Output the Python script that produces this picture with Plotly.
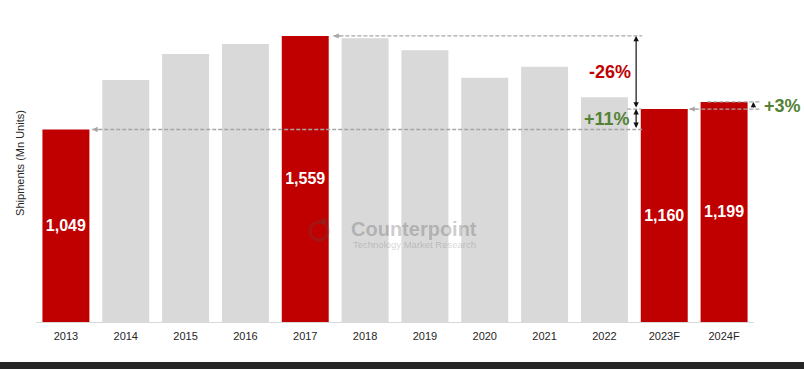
import plotly.graph_objects as go

# ---- data ----
years = ["2013", "2014", "2015", "2016", "2017", "2018", "2019", "2020", "2021", "2022", "2023F", "2024F"]
shipments = [1049, 1319, 1460, 1515, 1559, 1546, 1481, 1331, 1391, 1225, 1160, 1199]
highlight = ["2013", "2017", "2023F", "2024F"]
change_labels = {"peak_to_2023": "-26%", "base_to_2023": "+11%", "2023_to_2024": "+3%"}

RED = "#C00000"
GREY = "#D9D9D9"
GREEN = "#548235"
DASH = "#A6A6A6"
FONT = "Liberation Sans, Arial, sans-serif"
WM = "rgba(80,80,80,0.30)"

colors = [RED if y in highlight else GREY for y in years]
texts = [f"{v:,}" if y in highlight else "" for y, v in zip(years, shipments)]

n = len(years)
def xp(i):
    """category index (fractional) -> paper x"""
    return (i + 0.5) / n

v2013 = shipments[years.index("2013")]
v2017 = shipments[years.index("2017")]
v2023 = shipments[years.index("2023F")]
v2024 = shipments[years.index("2024F")]

fig = go.Figure(go.Bar(
    x=years, y=shipments,
    marker=dict(color=colors, line=dict(width=0)),
    text=texts, textposition="inside", insidetextanchor="middle",
    textangle=0, constraintext="none",
    textfont=dict(family=FONT, size=16, color="white", weight="bold"),
    hoverinfo="skip",
))

shapes = []
annotations = []

def dashed(i0, i1, y):
    shapes.append(dict(type="line", xref="paper", yref="y", x0=xp(i0), x1=xp(i1), y0=y, y1=y,
                       line=dict(color=DASH, width=1.3, dash="4px,2px"), layer="above"))

def head_left(i, y):
    annotations.append(dict(xref="paper", yref="y", x=xp(i), y=y, text="", showarrow=True,
                            ax=9, ay=0, axref="pixel", ayref="pixel", arrowhead=2, arrowsize=0.9,
                            arrowwidth=1.2, arrowcolor=DASH))

# dashed reference lines
dashed(4.47, 9.63, v2017)
head_left(4.47, v2017)
dashed(0.44, 9.63, v2013)
head_left(0.44, v2013)
dashed(9.38, 9.62, v2023)
dashed(10.42, 11.6, v2023)
head_left(10.42, v2023)
dashed(10.72, 11.6, v2024)

# black double arrows
def varrow(i, y_from, y_to, both=True):
    annotations.append(dict(xref="paper", yref="y", x=xp(i), y=y_to, text="", showarrow=True,
                            axref="pixel", ayref="y", ax=0, ay=y_from,
                            arrowhead=2, startarrowhead=2, arrowsize=0.9, startarrowsize=0.9,
                            arrowwidth=1.2, arrowcolor="#111111",
                            arrowside="end+start" if both else "end"))

varrow(9.53, v2023, v2017)
varrow(9.53, v2013, v2023)
varrow(11.49, v2023, v2024, both=False)

annotations.append(dict(xref="paper", yref="y", x=xp(9.48), y=(v2017 + v2023) / 2,
                        text=change_labels["peak_to_2023"], showarrow=False, xanchor="right",
                        font=dict(family=FONT, size=18, color=RED, weight="bold")))
annotations.append(dict(xref="paper", yref="y", x=xp(9.46), y=(v2023 + v2013) / 2,
                        text=change_labels["base_to_2023"], showarrow=False, xanchor="right",
                        font=dict(family=FONT, size=18, color=GREEN, weight="bold")))
annotations.append(dict(xref="paper", yref="y", x=xp(11.64), y=(v2023 + v2024) / 2,
                        text=change_labels["2023_to_2024"], showarrow=False, xanchor="left",
                        font=dict(family=FONT, size=18, color=GREEN, weight="bold")))

# y axis title
annotations.append(dict(xref="paper", yref="paper", x=-16 / 718, y=0.51, text="Shipments (Mn Units)",
                        showarrow=False, textangle=-90, xanchor="center", yanchor="middle",
                        font=dict(family=FONT, size=11, color="#262626")))

# watermark
annotations.append(dict(xref="paper", yref="paper", x=xp(5.82), y=(322 - 229) / 312,
                        text="Counterpoint", showarrow=False, xanchor="center", yanchor="middle",
                        font=dict(family=FONT, size=20, color=WM, weight="bold")))
annotations.append(dict(xref="paper", yref="paper", x=xp(5.82), y=(322 - 244) / 312,
                        text="Technology Market Research", showarrow=False, xanchor="center", yanchor="middle",
                        font=dict(family=FONT, size=9.5, color="rgba(80,80,80,0.25)")))
cx, cy = xp(4.23), (322 - 231) / 312
shapes.append(dict(type="circle", xref="paper", yref="paper", xsizemode="pixel", ysizemode="pixel",
                   xanchor=cx, yanchor=cy, x0=-9, x1=9, y0=-9, y1=9,
                   line=dict(color="rgba(80,80,80,0.22)", width=3.5), layer="above"))
shapes.append(dict(type="circle", xref="paper", yref="paper", xsizemode="pixel", ysizemode="pixel",
                   xanchor=cx, yanchor=cy, x0=2, x1=8, y0=7, y1=13,
                   fillcolor="rgba(80,80,80,0.25)", line=dict(width=0), layer="above"))

# bottom dark band
shapes.append(dict(type="rect", xref="paper", yref="paper", x0=-0.2, x1=1.2,
                   y0=(322 - 380) / 312, y1=(322 - 362) / 312,
                   fillcolor="#262626", line=dict(width=0), layer="above"))

fig.update_layout(
    width=804, height=369,
    margin=dict(l=36, r=50, t=10, b=47),
    paper_bgcolor="white", plot_bgcolor="white",
    bargap=0.215,
    showlegend=False,
    shapes=shapes, annotations=annotations,
    font=dict(family=FONT),
    xaxis=dict(type="category", showgrid=False, showline=True, linecolor=GREY, linewidth=1,
               ticks="outside", ticklen=4, tickcolor="white",
               tickfont=dict(family=FONT, size=11, color="#262626"), fixedrange=True),
    yaxis=dict(range=[0, 1700], showgrid=False, showticklabels=False, zeroline=False,
               showline=False, fixedrange=True),
)

fig.write_html("out.html", config={"displayModeBar": False},
               post_script="document.body.style.margin='0';document.body.style.overflow='hidden';")
